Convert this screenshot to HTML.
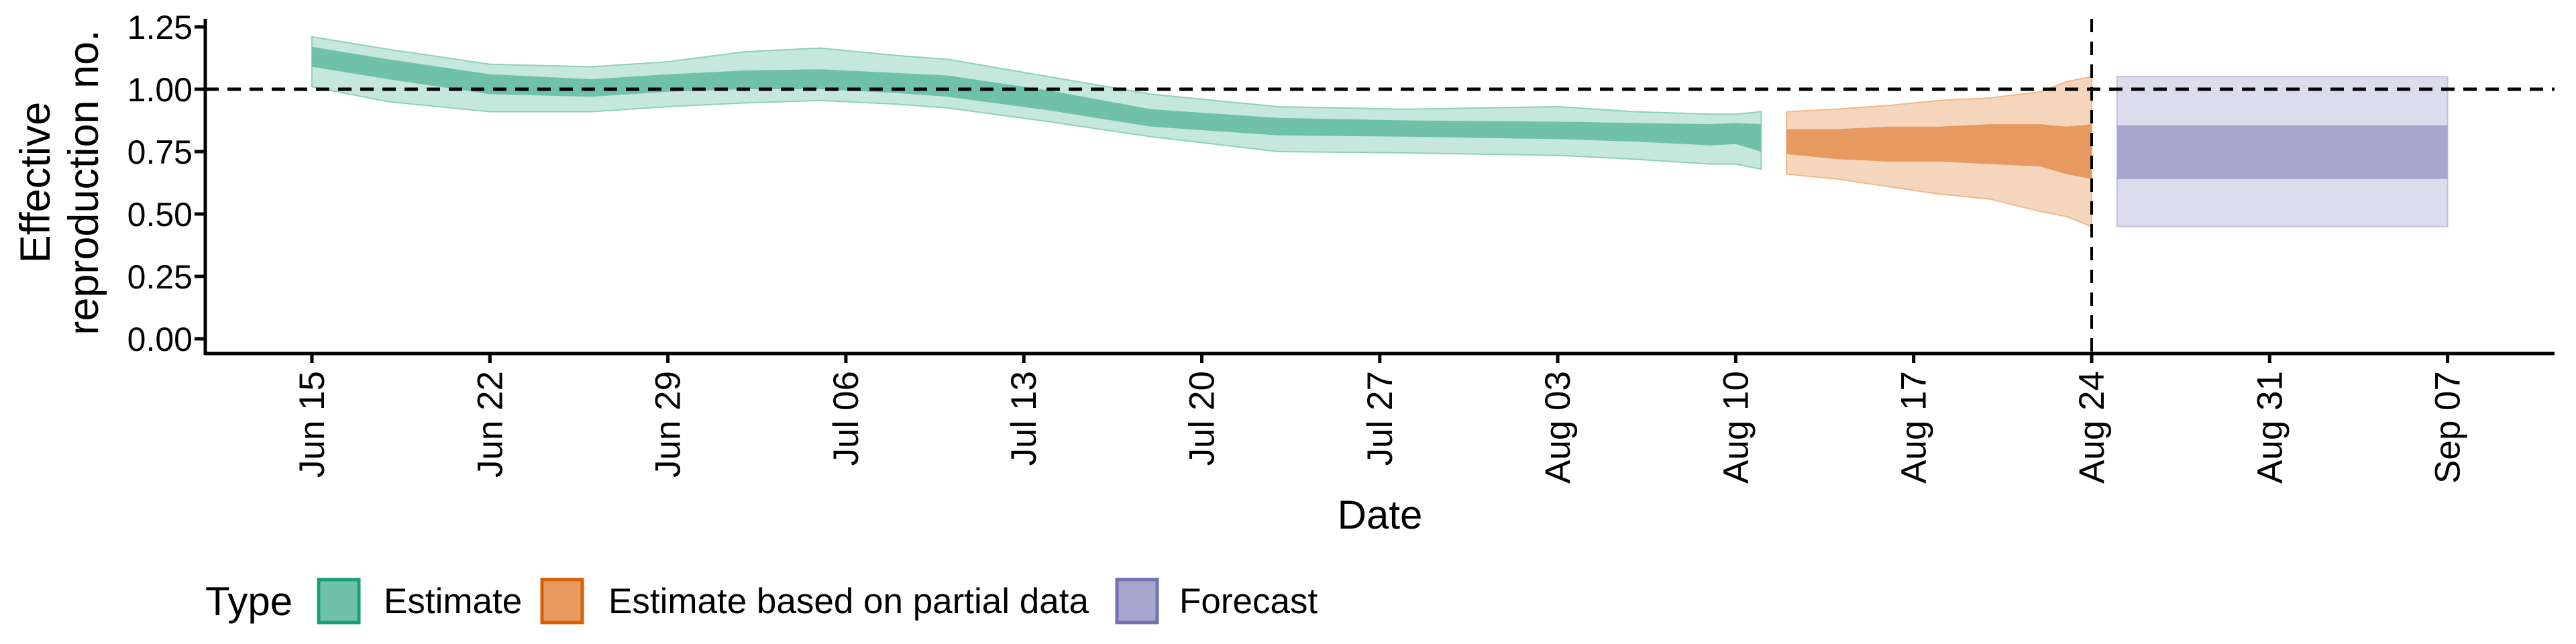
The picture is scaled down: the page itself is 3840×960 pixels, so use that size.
<!DOCTYPE html>
<html><head><meta charset="utf-8">
<style>
html,body{margin:0;padding:0;background:#fff;}
svg{display:block;font-family:"Liberation Sans",Arial,sans-serif;}
</style></head>
<body>
<svg id="chart" width="3840" height="960" viewBox="0 0 3840 960">
  <g id="bands"></g>
  <g id="axes"></g>
  <text x="0" y="0" transform="translate(74,272) rotate(-90)" text-anchor="middle" font-size="63">Effective</text>
  <text x="0" y="0" transform="translate(146,272) rotate(-90)" text-anchor="middle" font-size="63">reproduction no.</text>
  <text x="2057" y="788" text-anchor="middle" font-size="60">Date</text>
  <g>
    <text x="306" y="917" font-size="60">Type</text>
    <g>
      <rect x="475" y="864" width="60" height="64" fill="#70c1a9" stroke="#1b9e77" stroke-width="5"/>
      <text x="572" y="914" font-size="53">Estimate</text>
    </g>
    <g>
      <rect x="808" y="864" width="60" height="64" fill="#e69a60" stroke="#d95f02" stroke-width="5"/>
      <text x="907" y="914" font-size="53">Estimate based on partial data</text>
    </g>
    <g>
      <rect x="1665" y="864" width="60" height="64" fill="#a8a6cf" stroke="#7570b3" stroke-width="5"/>
      <text x="1758" y="914" font-size="53">Forecast</text>
    </g>
  </g>
</svg>
<script>
// ---- data ----
const estDays   = [0,3,7,11,14,17,20,23,25,29,33,38,43,49,52,55,56,57];
const estOuterLo= [1.01,0.95,0.91,0.91,0.93,0.945,0.955,0.94,0.925,0.87,0.81,0.75,0.745,0.735,0.72,0.70,0.70,0.68];
const estInnerLo= [1.09,1.04,0.98,0.97,0.99,1.00,1.00,0.985,0.97,0.915,0.85,0.815,0.81,0.80,0.79,0.775,0.78,0.75];
const estInnerHi= [1.17,1.12,1.06,1.04,1.06,1.075,1.08,1.065,1.055,0.995,0.92,0.885,0.875,0.87,0.865,0.86,0.865,0.86];
const estOuterHi= [1.21,1.16,1.10,1.09,1.11,1.15,1.165,1.135,1.12,1.05,0.98,0.93,0.92,0.93,0.91,0.90,0.90,0.91];
const partDays   = [58,60,62,64,66,68,69,70];
const partOuterLo= [0.66,0.64,0.61,0.58,0.56,0.51,0.49,0.45];
const partInnerLo= [0.74,0.72,0.71,0.71,0.70,0.69,0.66,0.64];
const partInnerHi= [0.84,0.84,0.85,0.85,0.86,0.86,0.85,0.86];
const partOuterHi= [0.91,0.92,0.935,0.955,0.965,0.99,1.03,1.05];
const fcDays   = [71,84];
const fcOuterLo= [0.45,0.45];
const fcInnerLo= [0.64,0.64];
const fcInnerHi= [0.855,0.855];
const fcOuterHi= [1.05,1.05];
const xTickDays  = [0,7,14,21,28,35,42,49,56,63,70,77,84];
const xTickLabels= ["Jun 15","Jun 22","Jun 29","Jul 06","Jul 13","Jul 20","Jul 27","Aug 03","Aug 10","Aug 17","Aug 24","Aug 31","Sep 07"];
const yTicks     = [0,0.25,0.5,0.75,1,1.25];
const yTickLabels= ["0.00","0.25","0.50","0.75","1.00","1.25"];
const refLineY = 1;
const forecastDay = 70;

// ---- scales ----
const X0=306, X1=3808, YB=527, YT=28;
function xs(d){return 465+d*37.9;}
function ys(v){return 505-v*372;}
const NS="http://www.w3.org/2000/svg";
function mk(tag,attrs,parent){const e=document.createElementNS(NS,tag);for(const k in attrs)e.setAttribute(k,attrs[k]);parent.appendChild(e);return e;}

const bands=document.getElementById('bands');
function band(days,lo,hi,fill,stroke,name){
  let p=[];
  for(let i=0;i<days.length;i++)p.push(xs(days[i]).toFixed(1)+','+ys(hi[i]).toFixed(1));
  for(let i=days.length-1;i>=0;i--)p.push(xs(days[i]).toFixed(1)+','+ys(lo[i]).toFixed(1));
  const e=mk('polygon',{points:p.join(' '),fill:fill,stroke:stroke,'stroke-width':stroke==='none'?0:2},bands);
  
  
}
band(estDays,estOuterLo,estOuterHi,'#c5e7dc','#8fd0bc','estimate-outer-band');
band(estDays,estInnerLo,estInnerHi,'#70c1a9','none','estimate-inner-band');
band(partDays,partOuterLo,partOuterHi,'#f5d6bc','#f0b88c','partial-outer-band');
band(partDays,partInnerLo,partInnerHi,'#e69a60','none','partial-inner-band');
band(fcDays,fcOuterLo,fcOuterHi,'#dddcec','#c0bedf','forecast-outer-band');
band(fcDays,fcInnerLo,fcInnerHi,'#a8a6cf','none','forecast-inner-band');

const axes=document.getElementById('axes');
let e;
e=mk('line',{x1:X0,y1:ys(refLineY),x2:X1,y2:ys(refLineY),stroke:'#000','stroke-width':5,'stroke-dasharray':'20 13'},axes);


e=mk('line',{x1:xs(forecastDay),y1:YT,x2:xs(forecastDay),y2:YB,stroke:'#000','stroke-width':4,'stroke-dasharray':'20 14'},axes);


e=mk('line',{x1:X0,y1:YT,x2:X0,y2:YB+2,stroke:'#000','stroke-width':5},axes);


e=mk('line',{x1:X0-2,y1:YB,x2:X1,y2:YB,stroke:'#000','stroke-width':5},axes);


yTicks.forEach((v,i)=>{
  const t=mk('line',{x1:X0-16,y1:ys(v),x2:X0,y2:ys(v),stroke:'#000','stroke-width':5},axes);
  
  
  const l=mk('text',{x:X0-19,y:ys(v)+18,'text-anchor':'end','font-size':50},axes);
  l.textContent=yTickLabels[i];
  
  
});
xTickDays.forEach((d,i)=>{
  const x=xs(d);
  const t=mk('line',{x1:x,y1:YB,x2:x,y2:YB+14,stroke:'#000','stroke-width':5},axes);
  
  
  const l=mk('text',{x:0,y:0,'text-anchor':'end','font-size':53,transform:'translate('+(x+18)+','+(YB+26)+') rotate(-90)'},axes);
  l.textContent=xTickLabels[i];
  
  
});
</script>
</body></html>
